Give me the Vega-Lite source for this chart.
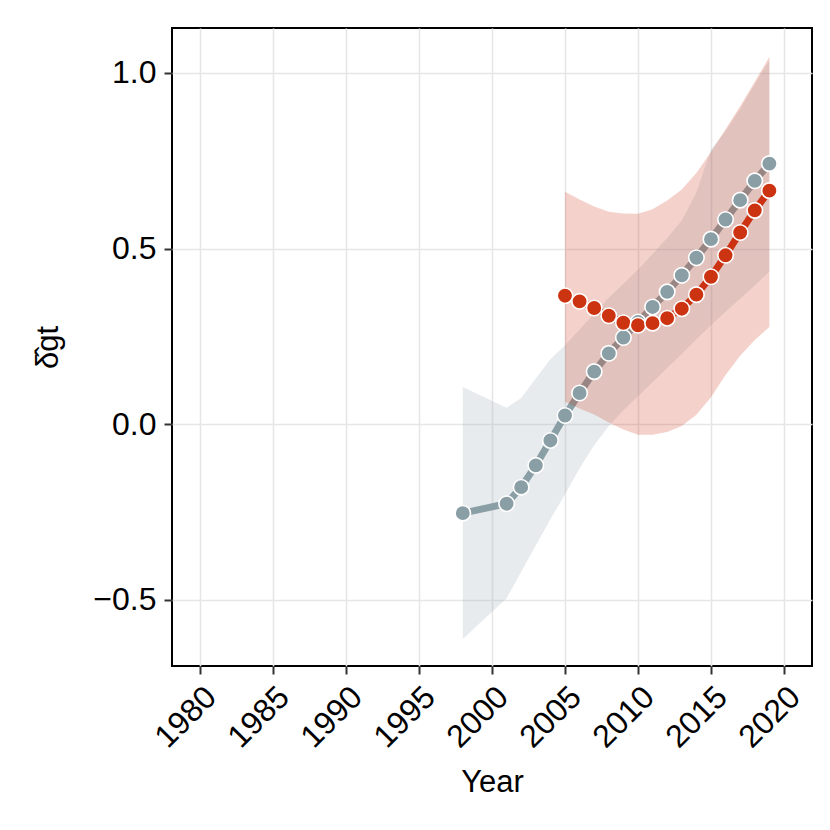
{
  "$schema": "https://vega.github.io/schema/vega-lite/v6.json",
  "autosize": "none",
  "width": 640,
  "height": 638,
  "padding": {"left": 172, "top": 28, "right": 18, "bottom": 164},
  "background": "white",
  "data": {
    "values": [
      {"series": "A", "Year": 1998, "est": -0.253, "lo": -0.611, "hi": 0.106},
      {"series": "A", "Year": 2001, "est": -0.226, "lo": -0.495, "hi": 0.047},
      {"series": "A", "Year": 2002, "est": -0.179, "lo": -0.42, "hi": 0.075},
      {"series": "A", "Year": 2003, "est": -0.117, "lo": -0.345, "hi": 0.13},
      {"series": "A", "Year": 2004, "est": -0.046, "lo": -0.27, "hi": 0.185},
      {"series": "A", "Year": 2005, "est": 0.025, "lo": -0.2, "hi": 0.225},
      {"series": "A", "Year": 2006, "est": 0.089, "lo": -0.125, "hi": 0.27},
      {"series": "A", "Year": 2007, "est": 0.15, "lo": -0.06, "hi": 0.315},
      {"series": "A", "Year": 2008, "est": 0.202, "lo": -0.005, "hi": 0.36},
      {"series": "A", "Year": 2009, "est": 0.247, "lo": 0.04, "hi": 0.4},
      {"series": "A", "Year": 2010, "est": 0.291, "lo": 0.08, "hi": 0.44},
      {"series": "A", "Year": 2011, "est": 0.334, "lo": 0.12, "hi": 0.485},
      {"series": "A", "Year": 2012, "est": 0.377, "lo": 0.16, "hi": 0.53},
      {"series": "A", "Year": 2013, "est": 0.424, "lo": 0.2, "hi": 0.58},
      {"series": "A", "Year": 2014, "est": 0.474, "lo": 0.242, "hi": 0.66},
      {"series": "A", "Year": 2015, "est": 0.527, "lo": 0.282, "hi": 0.782},
      {"series": "A", "Year": 2016, "est": 0.583, "lo": 0.32, "hi": 0.835},
      {"series": "A", "Year": 2017, "est": 0.638, "lo": 0.357, "hi": 0.898},
      {"series": "A", "Year": 2018, "est": 0.693, "lo": 0.395, "hi": 0.968},
      {"series": "A", "Year": 2019, "est": 0.742, "lo": 0.434, "hi": 1.036},
      {"series": "B", "Year": 2005, "est": 0.366, "lo": 0.064, "hi": 0.662},
      {"series": "B", "Year": 2006, "est": 0.35, "lo": 0.045, "hi": 0.64},
      {"series": "B", "Year": 2007, "est": 0.331, "lo": 0.028, "hi": 0.62},
      {"series": "B", "Year": 2008, "est": 0.309, "lo": 0.005, "hi": 0.605},
      {"series": "B", "Year": 2009, "est": 0.289, "lo": -0.015, "hi": 0.6},
      {"series": "B", "Year": 2010, "est": 0.282, "lo": -0.03, "hi": 0.599},
      {"series": "B", "Year": 2011, "est": 0.288, "lo": -0.03, "hi": 0.612},
      {"series": "B", "Year": 2012, "est": 0.302, "lo": -0.022, "hi": 0.637},
      {"series": "B", "Year": 2013, "est": 0.329, "lo": -0.005, "hi": 0.668},
      {"series": "B", "Year": 2014, "est": 0.369, "lo": 0.027, "hi": 0.715},
      {"series": "B", "Year": 2015, "est": 0.42, "lo": 0.077, "hi": 0.775},
      {"series": "B", "Year": 2016, "est": 0.481, "lo": 0.14, "hi": 0.84},
      {"series": "B", "Year": 2017, "est": 0.546, "lo": 0.195, "hi": 0.905},
      {"series": "B", "Year": 2018, "est": 0.609, "lo": 0.24, "hi": 0.975},
      {"series": "B", "Year": 2019, "est": 0.665, "lo": 0.277, "hi": 1.046}
    ]
  },
  "encoding": {
    "x": {
      "field": "Year",
      "type": "quantitative",
      "scale": {"domain": [1978.08, 2021.92], "nice": false, "zero": false},
      "axis": {
        "title": "Year",
        "values": [1980, 1985, 1990, 1995, 2000, 2005, 2010, 2015, 2020],
        "format": "d",
        "labelAngle": -45,
        "labelAlign": "right",
        "labelBaseline": "top",
        "labelPadding": 7,
        "titlePadding": 14
      }
    }
  },
  "layer": [
    {
      "transform": [{"filter": "datum.series == 'A'"}],
      "mark": {"type": "area", "color": "#9aacb6", "opacity": 0.24},
      "encoding": {
        "y": {
          "field": "lo",
          "type": "quantitative",
          "scale": {"domain": [-0.688, 1.128], "nice": false, "zero": false},
          "axis": {
            "title": "δ̂gt",
            "values": [-0.5, 0, 0.5, 1.0],
            "format": ".1f",
            "titlePadding": 28
          }
        },
        "y2": {"field": "hi"}
      }
    },
    {
      "transform": [{"filter": "datum.series == 'A'"}],
      "mark": {"type": "line", "color": "#8a9ea5", "strokeWidth": 7},
      "encoding": {"y": {"field": "est", "type": "quantitative"}}
    },
    {
      "transform": [{"filter": "datum.series == 'B'"}],
      "mark": {"type": "line", "color": "#cc3311", "strokeWidth": 7},
      "encoding": {"y": {"field": "est", "type": "quantitative"}}
    },
    {
      "transform": [{"filter": "datum.series == 'B'"}],
      "mark": {"type": "area", "color": "#cc3311", "opacity": 0.22},
      "encoding": {
        "y": {"field": "lo", "type": "quantitative"},
        "y2": {"field": "hi"}
      }
    },
    {
      "transform": [{"filter": "datum.series == 'A'"}],
      "mark": {"type": "point", "filled": true, "shape": "circle", "size": 240, "color": "#8a9ea5", "stroke": "white", "strokeWidth": 1.6, "opacity": 1},
      "encoding": {"y": {"field": "est", "type": "quantitative"}}
    },
    {
      "transform": [{"filter": "datum.series == 'B'"}],
      "mark": {"type": "point", "filled": true, "shape": "circle", "size": 240, "color": "#cc3311", "stroke": "white", "strokeWidth": 1.6, "opacity": 1},
      "encoding": {"y": {"field": "est", "type": "quantitative"}}
    }
  ],
  "config": {
    "font": "Liberation Sans",
    "view": {"stroke": "black", "strokeWidth": 2},
    "axis": {
      "labelFontSize": 32,
      "labelColor": "black",
      "labelFont": "Liberation Sans",
      "titleFont": "Liberation Sans",
      "titleFontSize": 31,
      "titleFontWeight": "normal",
      "titleColor": "black",
      "tickSize": 8,
      "tickWidth": 2,
      "tickColor": "#333333",
      "domain": false,
      "grid": true,
      "gridColor": "#e6e6e6",
      "gridWidth": 1.6
    },
    "axisY": {"labelPadding": 8}
  }
}
